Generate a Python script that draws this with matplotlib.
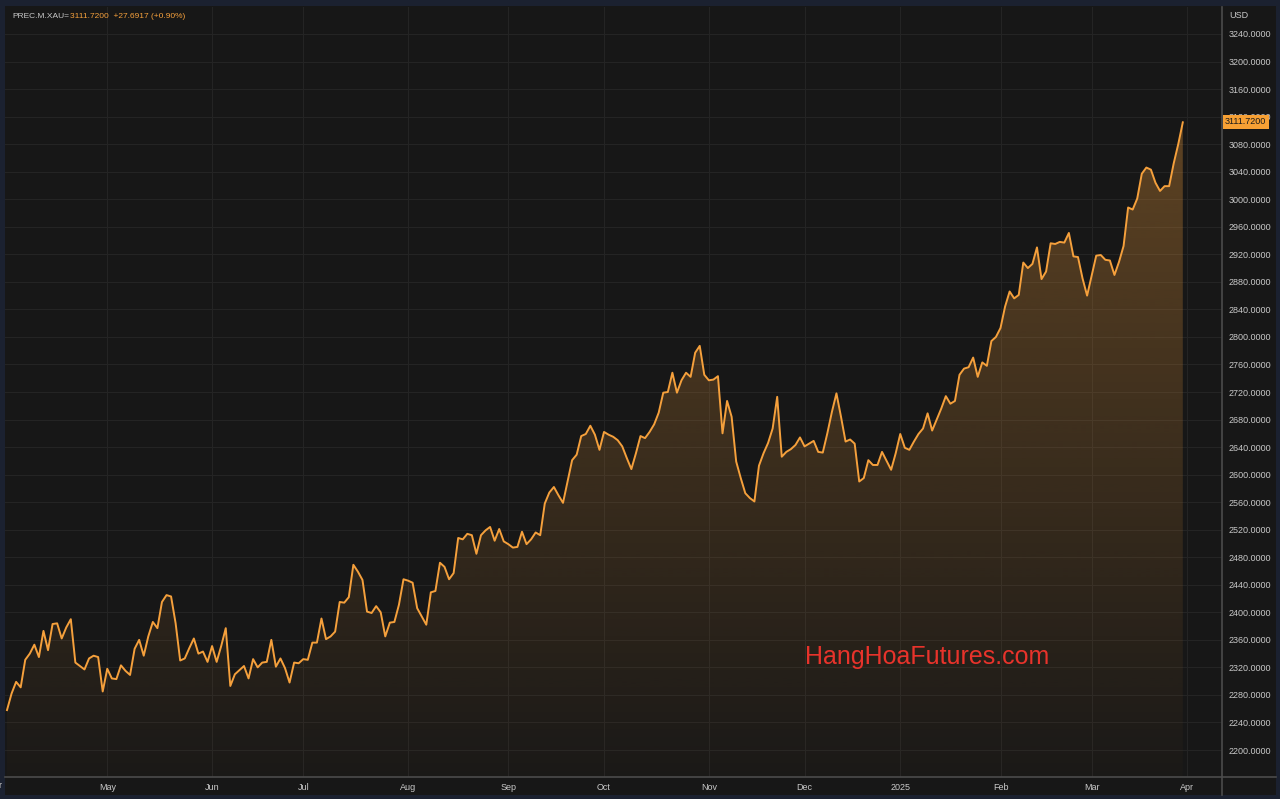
import numpy as np
import matplotlib
matplotlib.use("Agg")
import matplotlib.pyplot as plt
from matplotlib.patches import Rectangle
from matplotlib.lines import Line2D

# Daily gold spot (XAU) closes, Apr 2024 - Mar 2025
prices = [
    2258, 2282, 2299, 2291, 2331, 2340, 2353, 2335, 2373, 2345, 2383, 2384, 2362, 2378, 2390,
    2327, 2322, 2317, 2333, 2337, 2335, 2285, 2318, 2304, 2303, 2323, 2315, 2309, 2347, 2360,
    2337, 2365, 2386, 2377, 2415, 2425, 2423, 2384, 2330, 2333, 2348, 2362, 2340, 2343, 2328,
    2351, 2328, 2351, 2377, 2293, 2310, 2316, 2322, 2304, 2332, 2320, 2327, 2328, 2360, 2321,
    2333, 2319, 2298, 2327, 2326, 2332, 2331, 2356, 2356, 2391, 2361, 2365, 2372, 2415, 2414,
    2422, 2469, 2459, 2447, 2401, 2399, 2409, 2400, 2365, 2385, 2386, 2411, 2448, 2446,
    2443, 2406, 2394, 2382, 2429, 2431, 2472, 2466, 2448, 2457, 2508, 2506, 2514, 2512, 2485,
    2512, 2519, 2524, 2504, 2521, 2503, 2499, 2494, 2495, 2517, 2499, 2506, 2516, 2512, 2558,
    2574, 2582, 2570, 2559, 2590, 2621, 2629, 2656, 2659, 2671, 2658, 2636,
    2662, 2658, 2655, 2650, 2641, 2624, 2608, 2631, 2656, 2653, 2662, 2673, 2690, 2719, 2720,
    2748, 2719, 2737, 2748, 2742, 2777, 2787, 2745, 2737, 2738, 2743, 2660, 2707, 2684, 2619,
    2595, 2573, 2566, 2561, 2613, 2631, 2646, 2667, 2713, 2626, 2633, 2637, 2643, 2654,
    2641, 2645, 2649, 2633, 2632, 2660, 2691, 2718, 2684, 2648, 2651, 2645, 2590, 2595, 2621,
    2614, 2614, 2633, 2620, 2607, 2631, 2659, 2639, 2636, 2648, 2659, 2667, 2689, 2664, 2680,
    2696, 2714, 2703, 2707, 2745, 2754, 2756, 2770, 2742, 2763, 2758, 2794, 2800, 2813,
    2844, 2866, 2856, 2861, 2908, 2900, 2906, 2930, 2884, 2895, 2936, 2935, 2938, 2937, 2951,
    2917, 2916, 2885, 2860, 2889, 2918, 2919, 2912, 2911, 2890, 2909, 2932, 2988, 2985, 3001,
    3037, 3046, 3043, 3024, 3012, 3019, 3019, 3052, 3080, 3111.72,
]

# month labels and the trading-day index where each month starts
month_labels = ["May", "Jun", "Jul", "Aug", "Sep", "Oct", "Nov", "Dec", "2025", "Feb", "Mar", "Apr"]
month_start_idx = [22, 45, 65, 88, 110, 131, 154, 175, 196, 218, 238, 259]

y_ticks = list(range(2200, 3241, 40))

symbol = "PREC.M.XAU="
last_price = 3111.72
change = 27.6917
change_pct = 0.90

# colours
NAVY = "#1b2130"
BG = "#171717"
GRID = "#242424"
SPINE = "#4b4b4b"
ORANGE = "#f5a03c"
TEXT = "#c9c9c9"

W, H = 1280, 799
fig = plt.figure(figsize=(W / 100, H / 100), dpi=100, facecolor=NAVY)


def fx(px):
    return px / W


def fy(py):
    return 1 - py / H


# chart panel background (behind the axes)
fig.patches.append(Rectangle((fx(5), fy(795)), fx(1271), (795 - 6) / H,
                             transform=fig.transFigure, facecolor=BG, edgecolor="none",
                             zorder=-10))

ax = fig.add_axes([fx(5), fy(777), fx(1222 - 5), (777 - 7) / H])
ax.set_facecolor(BG)

idx = np.arange(len(prices))
y = np.array(prices)

ymin, ymax = 2160.8, 3279.2
ax.set_xlim(-0.44, 266.6)
ax.set_ylim(ymin, ymax)

# grid
for v in y_ticks:
    ax.axhline(v, color=GRID, lw=0.8, zorder=0)
for m in month_start_idx:
    ax.axvline(m, color=GRID, lw=0.8, zorder=0)

# gradient fill under the line
rgb = matplotlib.colors.to_rgb(ORANGE)
rgba = np.zeros((256, 1, 4))
rgba[..., 0], rgba[..., 1], rgba[..., 2] = rgb
top_val = y.max()
levels = np.linspace(ymin, top_val, 256)
rgba[:, 0, 3] = np.clip(0.03 + 0.29 * (levels - 2200) / (top_val - 2200), 0, 1)
im = ax.imshow(rgba, extent=[idx[0], idx[-1], ymin, top_val], aspect="auto",
               origin="lower", zorder=1, interpolation="bilinear")
poly = ax.fill_between(idx, y, ymin, color="none", lw=0)
im.set_clip_path(poly.get_paths()[0], transform=ax.transData)
ax.set_xlim(-0.44, 266.6)
ax.set_ylim(ymin, ymax)

ax.plot(idx, y, color=ORANGE, lw=1.4, zorder=3, solid_joinstyle="round")

# axes styling
for side in ["top", "left"]:
    ax.spines[side].set_visible(False)
for side in ["right", "bottom"]:
    ax.spines[side].set_color(SPINE)
    ax.spines[side].set_linewidth(1.2)

font = ["Liberation Sans Narrow", "Liberation Sans", "DejaVu Sans"]

ax.yaxis.tick_right()
ax.set_yticks(y_ticks)
ax.set_yticklabels([f"{v:.4f}" for v in y_ticks])
ax.set_xticks(month_start_idx)
ax.set_xticklabels(month_labels)
ax.tick_params(axis="both", length=0, colors=TEXT, labelsize=6.5)
ax.tick_params(axis="y", pad=5)
ax.tick_params(axis="x", pad=4)
for lab in ax.get_xticklabels() + ax.get_yticklabels():
    lab.set_family(font)

# extend the panel lines into the price scale area
fig.add_artist(Line2D([fx(1222), fx(1222)], [fy(777), fy(795)], transform=fig.transFigure,
                      color=SPINE, lw=1.2))
fig.add_artist(Line2D([fx(1222), fx(1276)], [fy(777), fy(777)], transform=fig.transFigure,
                      color=SPINE, lw=1.2))

# cut-off "Apr" at the far left
fig.text(fx(-4), fy(786), "Apr", color=TEXT, fontsize=6.5, ha="center", va="center", family=font)

# header
fig.text(fx(12), fy(16), symbol, color=TEXT, fontsize=6, ha="left", va="center", family=font)
fig.text(fx(70), fy(16), f"{last_price:.4f}  +{change:.4f} (+{change_pct:.2f}%)",
         color=ORANGE, fontsize=6, ha="left", va="center", family=font)

fig.text(fx(1229), fy(15), "USD", color=TEXT, fontsize=6.5, ha="left", va="center", family=font)

# last price tag on the scale
fig.text(fx(1225), fy(122), f"{last_price:.4f}", color="#1a1a1a", fontsize=6.5,
         ha="left", va="center", family=font, zorder=10,
         bbox=dict(boxstyle="square,pad=0.25", facecolor="#f7a034", edgecolor="none"))

# watermark
fig.text(fx(927), fy(657), "HangHoaFutures.com", color="#e8332b", fontsize=18,
         ha="center", va="center", family=["Liberation Sans", "DejaVu Sans"])

fig.savefig("out.png", dpi=100, facecolor=NAVY)
